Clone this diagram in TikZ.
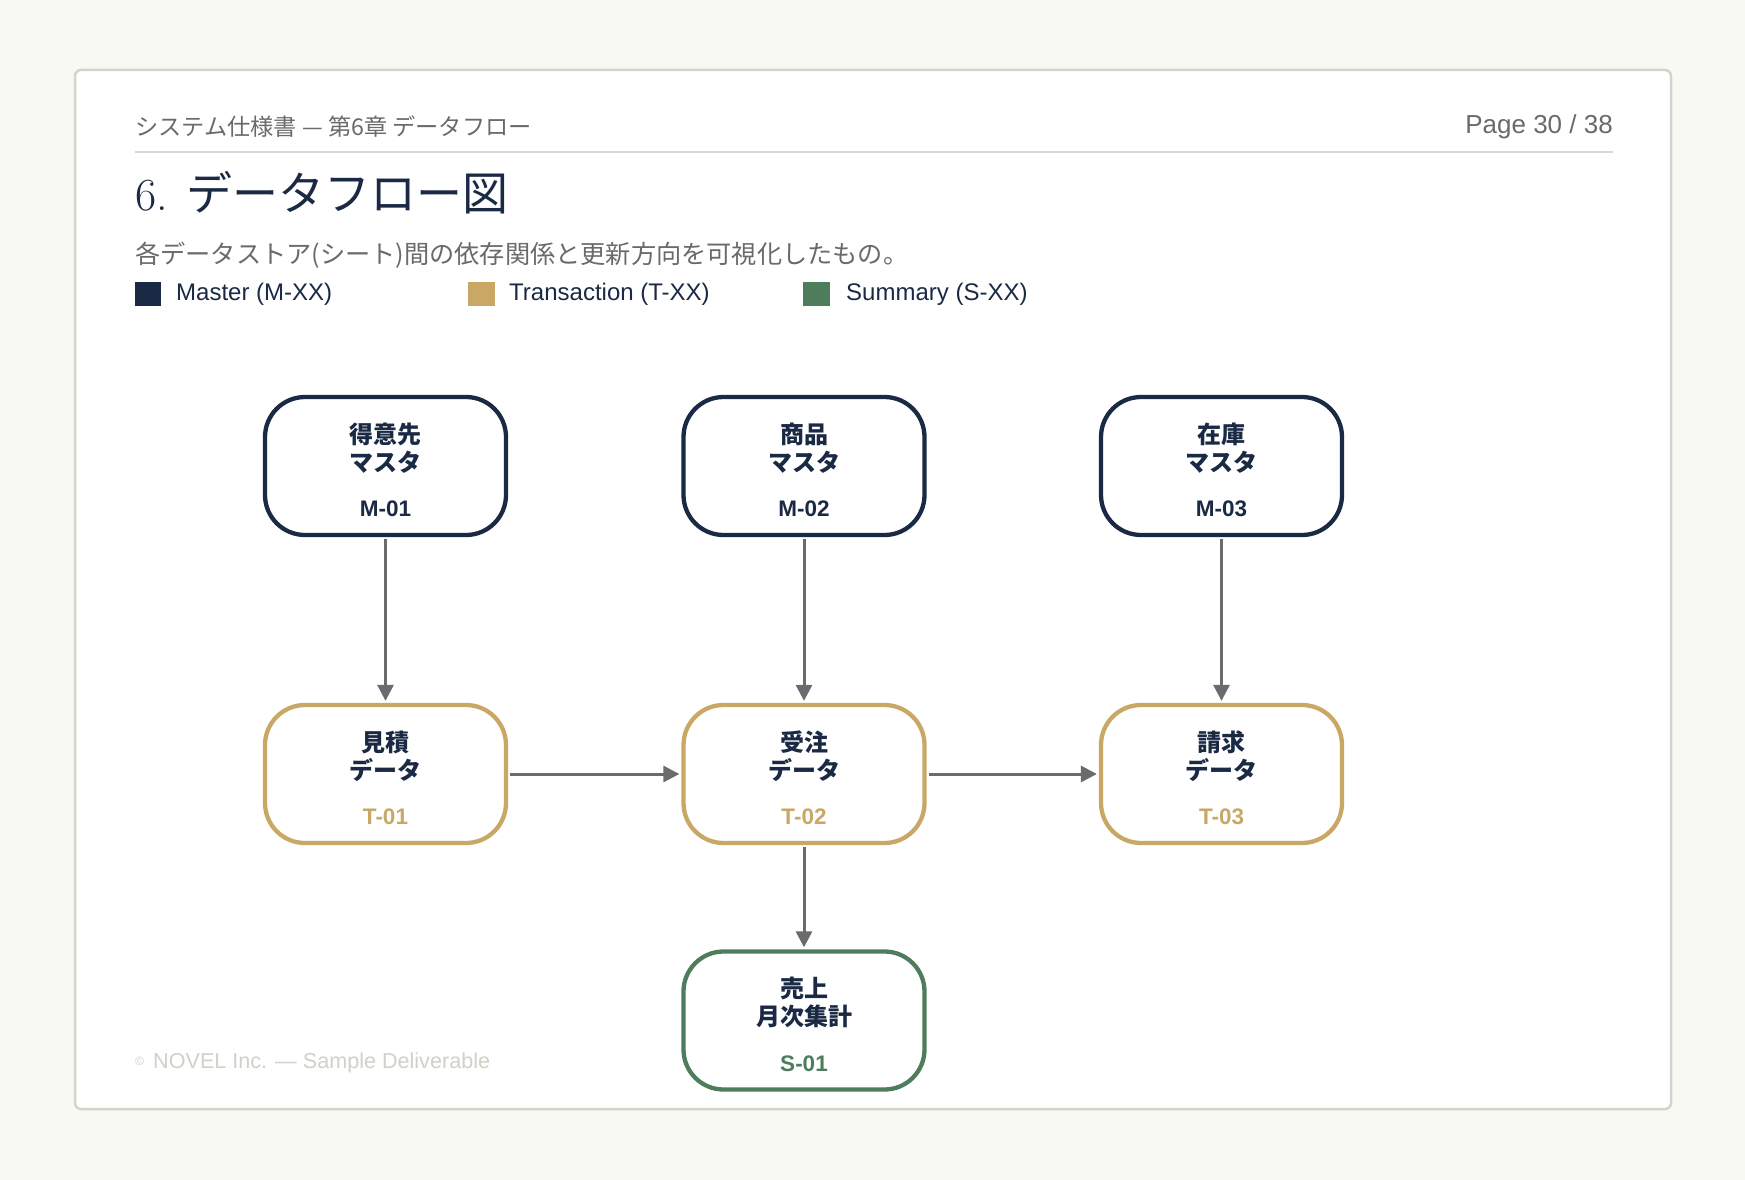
\documentclass[tikz,border=0pt]{standalone}
\usepackage{fontspec}
\newfontfamily\jp{Noto Sans CJK JP}
\newfontfamily\lat{Liberation Sans}
\usetikzlibrary{arrows.meta,calc}
\definecolor{navy}{HTML}{1B2A44}
\definecolor{gold}{HTML}{C9A866}
\definecolor{sgreen}{HTML}{4E7D5E}
\definecolor{arrowgray}{HTML}{6B6B6B}
\definecolor{headgray}{HTML}{6A6A6A}
\definecolor{rulec}{HTML}{D9D7CE}
\definecolor{framec}{HTML}{D6D4CA}
\definecolor{bgc}{HTML}{F9F9F4}
\definecolor{footc}{HTML}{D3D0C6}
\tikzset{
  dbox/.style={draw, line width=4.3pt, rounded corners=40pt, minimum width=241pt, minimum height=138pt, fill=white, inner sep=0pt},
  nm/.style={inner sep=0pt, text=navy, font=\jp\bfseries\fontsize{24}{28}\selectfont},
  cd/.style={inner sep=0pt, font=\lat\bfseries\fontsize{22.5}{26}\selectfont},
  arr/.style={draw=arrowgray, line width=3pt, -{Triangle[length=16pt,width=16pt]}, shorten >=2pt, shorten <=2pt},
  txt/.style={inner sep=0pt, anchor=west},
  legsq/.style={inner sep=0pt}
}
\newcommand\dfbox[7]{%
  \node[dbox, draw=#4] (#1) at (#2,#3) {};
  \node[nm] (#1-a) at ($(#1.center)+(0,-32)$) {#5};
  \node[nm] (#1-b) at ($(#1.center)+(0,-4)$) {#6};
  \node[cd, text=#4] (#1-c) at ($(#1.center)+(0,43)$) {#7};
}
\begin{document}
\begin{tikzpicture}[x=1pt,y=-1pt]
\useasboundingbox (0,0) rectangle (1745,1180);
\fill[bgc] (0,0) rectangle (1745,1180);
\draw[framec, line width=2.5pt, fill=white, rounded corners=6pt] (75,70) rectangle (1671,1109);
% header
\node[txt, text=headgray, font=\jp\fontsize{23.2}{27}\selectfont] (hdr) at (135,127) {システム仕様書 — 第6章 データフロー};
\node[inner sep=0pt, anchor=east, text=headgray, font=\lat\fontsize{26}{29}\selectfont] (pg) at (1613,127) {Page 30 / 38};
\draw[rulec, line width=1.5pt] (135,152) -- (1613,152);
% title
\node[txt, text=navy, font=\fontsize{46}{52}\selectfont] (title) at (135,193) {6. {\jp データフロー図}};
\node[txt, text=headgray, font=\jp\fontsize{25.2}{29}\selectfont] (sub) at (135,255) {各データストア(シート)間の依存関係と更新方向を可視化したもの。};
% legend
\fill[navy] (135,282) rectangle (161,306);
\fill[gold] (468,282) rectangle (495,306);
\fill[sgreen] (803,282) rectangle (830,306);
\node[txt, text=navy, font=\lat\fontsize{24}{28}\selectfont] (lg1) at (176,294) {Master (M-XX)};
\node[txt, text=navy, font=\lat\fontsize{24}{28}\selectfont] (lg2) at (509,294) {Transaction (T-XX)};
\node[txt, text=navy, font=\lat\fontsize{24}{28}\selectfont] (lg3) at (846,294) {Summary (S-XX)};
% boxes
\dfbox{m1}{385.5}{466}{navy}{得意先}{マスタ}{M-01}
\dfbox{m2}{804}{466}{navy}{商品}{マスタ}{M-02}
\dfbox{m3}{1221.5}{466}{navy}{在庫}{マスタ}{M-03}
\dfbox{t1}{385.5}{774}{gold}{見積}{データ}{T-01}
\dfbox{t2}{804}{774}{gold}{受注}{データ}{T-02}
\dfbox{t3}{1221.5}{774}{gold}{請求}{データ}{T-03}
\dfbox{s1}{804}{1020.5}{sgreen}{売上}{月次集計}{S-01}
% arrows
\draw[arr] (m1) -- (t1);
\draw[arr] (m2) -- (t2);
\draw[arr] (m3) -- (t3);
\draw[arr] (t1) -- (t2);
\draw[arr] (t2) -- (t3);
\draw[arr] (t2) -- (s1);
% footer
\node[inner sep=0pt, anchor=west, text=footc, font=\lat\fontsize{12}{14}\selectfont] (copy) at (135,1061) {©};
\node[txt, text=footc, font=\lat\fontsize{21.6}{25}\selectfont] (foot) at (153,1063) {NOVEL Inc. — Sample Deliverable};
\end{tikzpicture}
\end{document}
